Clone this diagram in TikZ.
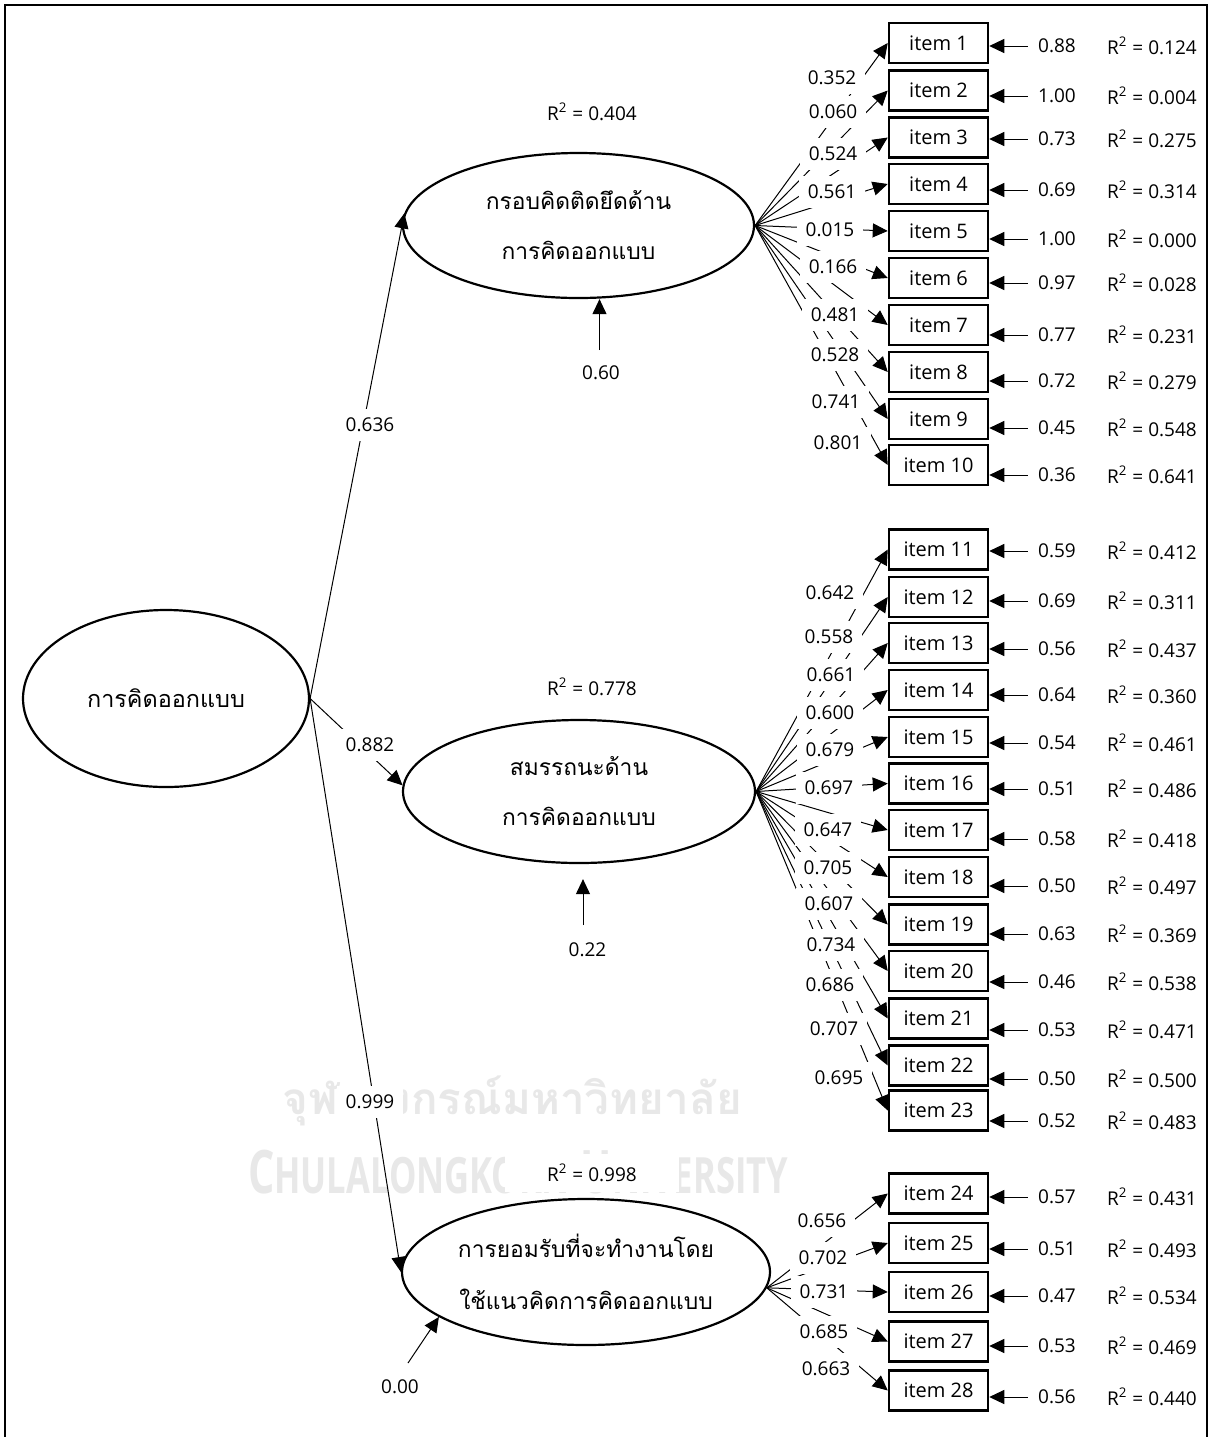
\documentclass[tikz,border=0pt]{standalone}
\usepackage{fontspec}
\setmainfont{Open Sans}
\newfontfamily\thaifont[Script=Thai]{Loma}
\usetikzlibrary{arrows.meta,shapes.geometric}
\newcommand\mynumfont{\fontsize{9.5}{11}\selectfont}
\newcommand\mythaifont{\thaifont\fontsize{11.4}{25}\selectfont}
\begin{document}
\begin{tikzpicture}[x=0.5pt,y=-0.5pt,
  arr/.style={-{Triangle[length=7.5pt,width=7pt]}, line width=0.5pt},
  itembox/.style={draw, line width=1.25pt, minimum width=49.5pt, minimum height=20pt, inner sep=0pt, font=\fontsize{10}{12}\selectfont},
  errv/.style={inner xsep=5pt, inner ysep=0pt, font=\mynumfont},
  rsq/.style={inner sep=0pt, font=\mynumfont},
  lbl/.style={fill=white, inner sep=0pt, minimum width=33pt, minimum height=16pt, font=\mynumfont},
  latR/.style={fill=white, inner sep=0pt, minimum width=87pt, minimum height=19pt, font=\mynumfont},
  latent/.style={draw, ellipse, line width=1.1pt, inner sep=0pt, align=center, font=\mythaifont},
  wm/.style={text=black!9, inner sep=0pt}
]
\useasboundingbox (0,0) rectangle (1215,1437);
\fill[white] (0,0) rectangle (1215,1437);
% frame
\draw[line width=1pt] (5,1440) -- (5,5) -- (1207,5) -- (1207,1440);
% watermark text
\node[wm, font=\thaifont\bfseries\fontsize{22}{22}\selectfont] (wm1) at (512,1101) {จุฬาลงกรณ์มหาวิทยาลัย};
\node[wm, font=\bfseries\fontsize{30}{30}\selectfont] (wm2) at (518,1172)
  {\scalebox{0.69}[1]{C{\fontsize{25}{25}\selectfont HULALONGKORN} U{\fontsize{25}{25}\selectfont NIVERSITY}}};

% latent variables
\node[latent, minimum width=143pt, minimum height=88.5pt, font=\thaifont\fontsize{11.7}{25}\selectfont] (E0) at (166,698.5) {การคิดออกแบบ};
\node[latent, minimum width=175.5pt, minimum height=72.5pt] (E1) at (578.5,225.5) {กรอบคิดติดยึดด้าน\\การคิดออกแบบ};
\node[latent, minimum width=176pt, minimum height=71.5pt] (E2) at (579,791.5) {สมรรถนะด้าน\\การคิดออกแบบ};
\node[latent, minimum width=184pt, minimum height=73pt, font=\thaifont\fontsize{11.4}{26}\selectfont] (E3) at (586,1272) {การยอมรับที่จะทำงานโดย\\ใช้แนวคิดการคิดออกแบบ};

% items, errors, R2
\foreach \k/\cy/\ay/\ev/\rs in {1/43/44/0.88/0.124, 2/90.5/94/1.00/0.004, 3/137.5/137/0.73/0.275,
  4/184/188/0.69/0.314, 5/231/237/1.00/0.000, 6/278/281/0.97/0.028, 7/325/333/0.77/0.231,
  8/372/379/0.72/0.279, 9/419/426/0.45/0.548, 10/465/473/0.36/0.641, 11/549.5/549/0.59/0.412,
  12/597/599/0.69/0.311, 13/643/647/0.56/0.437, 14/690/693/0.64/0.360, 15/737/741/0.54/0.461,
  16/783.5/787/0.51/0.486, 17/830/837/0.58/0.418, 18/877/884/0.50/0.497, 19/924.5/932/0.63/0.369,
  20/971/980/0.46/0.538, 21/1018.5/1028/0.53/0.471, 22/1065.5/1077/0.50/0.500, 23/1110.5/1119/0.52/0.483,
  24/1193.5/1195/0.57/0.431, 25/1243/1247/0.51/0.493, 26/1292/1294/0.47/0.534, 27/1341.5/1344/0.53/0.469,
  28/1390.5/1395/0.56/0.440}{
  \node[itembox] (i\k) at (938.5,\cy) {item \k};
  \node[errv] (e\k) at (1057,\ay+2) {\ev};
  \node[rsq] (r\k) at (1152,\ay+2) {R\textsuperscript{2} = \rs};
  \draw[arr] (e\k.west) -- (e\k.west -| i\k.east);
}

% structural paths
\draw[arr] (E0.east) -- (E1.176);
\draw[arr] (E0.east) -- (E2.178);
\draw[arr] (E0.east) -- (E3.west);
\node[lbl] (p1) at (370,425) {0.636};
\node[lbl] (p2) at (370,745) {0.882};
\node[lbl] (p3) at (370,1102) {0.999};

% loadings
\foreach \k in {1,...,10} {\draw[arr] (E1.east) -- (i\k.west);}
\foreach \k in {11,...,23} {\draw[arr] (E2.east) -- (i\k.west);}
\foreach \k in {24,...,28} {\draw[arr] (E3.-5) -- (i\k.west);}
\foreach \k/\x/\y/\v in {1/832/78/0.352, 2/833/112/0.060, 3/833/154/0.524, 4/832/192/0.561,
  5/830/230/0.015, 6/833/267/0.166, 7/835/315/0.481, 8/835/355/0.528, 9/836/402/0.741, 10/838/443/0.801,
  11/830/593/0.642, 12/829/637/0.558, 13/831/675/0.661, 14/830/713/0.600, 15/830/750/0.679,
  16/829/788/0.697, 17/828/830/0.647, 18/828/868/0.705, 19/829/904/0.607, 20/831/945/0.734,
  21/830/985/0.686, 22/834/1029/0.707, 23/839/1078/0.695,
  24/822/1221/0.656, 25/823/1258/0.702, 26/824/1292/0.731, 27/824/1332/0.685, 28/826/1369/0.663}{
  \node[lbl] (l\k) at (\x,\y) {\v};
}

% R2 of latent variables
\node[latR] (R1) at (592,112) {R\textsuperscript{2} = 0.404};
\node[latR] (R2) at (592,687) {R\textsuperscript{2} = 0.778};
\node[latR] (R3) at (592,1173) {R\textsuperscript{2} = 0.998};

% disturbances
\coordinate (d1s) at (599.5,350);
\coordinate (d2s) at (583,925);
\coordinate (d3s) at (408,1363);
\draw[arr] (d1s) -- (d1s |- E1.south);
\draw[arr, shorten >=7.5pt] (d2s) -- (d2s |- E2.south);
\draw[arr] (d3s) -- (E3.197);
\node[lbl, minimum height=19pt] (u1) at (601,373) {0.60};
\node[lbl, minimum width=35.5pt, minimum height=15pt] (u2) at (587.5,950) {0.22};
\node[lbl] (u3) at (400,1387) {0.00};
\end{tikzpicture}
\end{document}
